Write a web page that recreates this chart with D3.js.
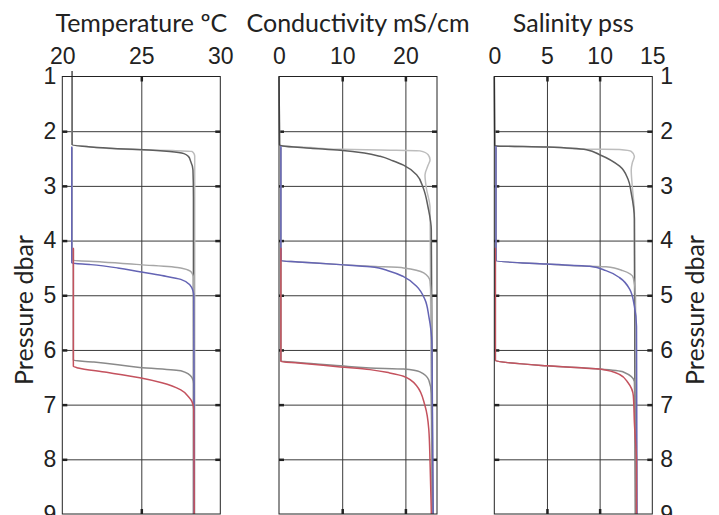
<!DOCTYPE html>
<html>
<head>
<meta charset="utf-8">
<script src="https://cdn.jsdelivr.net/npm/d3@7"></script>
<style>
  body { margin: 0; background: #fff; }
  svg { display: block; font-family: Lato, "Open Sans", sans-serif; }
  .grid line { stroke: #3a3a3a; stroke-width: 1; }
  .marks line { stroke: #222; stroke-width: 2.5; }
  .lbl text { font-size: 23px; fill: #222; }
  .lbl path, .grid path, .marks path { display: none; }
</style>
</head>
<body>
<script>
// pressure ticks (dbar)
const pressureTicks = [1, 2, 3, 4, 5, 6, 7, 8, 9];

// panels
const panelTitles = ['Temperature \u00baC', 'Conductivity mS/cm', 'Salinity pss'];
const panelDomains = [[20, 30], [0, 25], [0, 15]];
const panelTicks = [[20, 25, 30], [0, 10, 20], [0, 5, 10, 15]];

// profiles: [pressure, value]
// temperature
const tempLight = [[0.9, 20.62], [2.25, 20.62], [2.28, 21.5], [2.31, 22.8], [2.34, 24.9], [2.355, 27.0], [2.37, 28.2], [2.42, 28.35], [2.46, 28.38], [3.5, 28.38], [9, 28.38]];
const tempDark = [[0.9, 20.62], [2.25, 20.62], [2.29, 21.8], [2.32, 23.5], [2.345, 25.5], [2.37, 26.8], [2.41, 27.7], [2.47, 28.0], [2.53, 28.1], [2.71, 28.27], [3.2, 28.3], [9, 28.3]];
const tempGray2 = [[2.3, 20.62], [4.36, 20.62], [4.39, 22.5], [4.44, 24.9], [4.5, 27.5], [4.56, 28.1], [4.62, 28.25], [4.68, 28.3], [9, 28.35]];
const tempBlue = [[2.28, 20.6], [4.41, 20.6], [4.44, 21.8], [4.5, 23.5], [4.57, 24.9], [4.64, 26.3], [4.71, 27.5], [4.82, 28.1], [4.92, 28.27], [5.0, 28.32], [9, 28.35]];
const tempGray3 = [[4.15, 20.7], [6.19, 20.7], [6.22, 22.0], [6.32, 24.9], [6.38, 27.5], [6.5, 28.2], [6.62, 28.32], [9, 28.35]];
const tempRed = [[4.13, 20.7], [6.3, 20.7], [6.33, 21.0], [6.41, 22.8], [6.51, 24.9], [6.6, 26.3], [6.73, 27.5], [6.86, 28.0], [6.94, 28.2], [7.09, 28.32], [9, 28.35]];

// conductivity
const condLight = [[1.0, 0], [2.25, 0.1], [2.27, 0.6], [2.3, 5.0], [2.33, 9.7], [2.345, 16.0], [2.36, 22.3], [2.43, 23.6], [2.52, 23.9], [2.62, 23.6], [2.8, 23.1], [3.03, 23.3], [3.4, 23.9], [9, 24.2]];
const condDark = [[1.0, 0], [2.25, 0.1], [2.27, 0.6], [2.31, 5.0], [2.35, 9.7], [2.4, 13.5], [2.46, 16.0], [2.54, 18.0], [2.62, 19.7], [2.8, 21.8], [3.03, 22.8], [3.4, 23.6], [3.8, 24.1], [9, 24.3]];
const condGray2 = [[2.3, 0.3], [4.37, 0.3], [4.39, 3.0], [4.44, 9.7], [4.47, 14.4], [4.5, 19.7], [4.59, 22.9], [4.74, 23.9], [5.2, 24.1], [9, 24.3]];
const condBlue = [[2.27, 0.3], [4.37, 0.3], [4.39, 3.0], [4.44, 9.7], [4.48, 14.4], [4.56, 17.5], [4.66, 19.7], [4.84, 21.8], [5.08, 23.1], [5.38, 23.7], [5.9, 24.2], [9, 24.4]];
const condGray3 = [[4.15, 0.3], [6.2, 0.3], [6.23, 3.0], [6.29, 9.7], [6.33, 14.4], [6.35, 19.7], [6.4, 22.3], [6.55, 23.7], [6.8, 24.1], [9, 24.3]];
const condRed = [[4.13, 0.3], [6.21, 0.3], [6.24, 3.0], [6.31, 9.7], [6.36, 14.4], [6.42, 17.5], [6.48, 19.7], [6.66, 21.8], [7.02, 23.1], [7.45, 23.7], [8.05, 23.9], [9, 24.1]];

// salinity
const salLight = [[1.0, 0], [2.25, 0.05], [2.27, 0.16], [2.29, 5.0], [2.33, 8.75], [2.335, 11.9], [2.37, 13.0], [2.46, 13.3], [2.58, 13.1], [2.71, 13.0], [3.01, 13.1], [3.5, 13.3], [9, 13.4]];
const salDark = [[1.0, 0], [2.25, 0.05], [2.27, 0.16], [2.29, 5.0], [2.34, 8.75], [2.43, 10.0], [2.64, 11.9], [2.88, 12.7], [3.13, 13.0], [3.6, 13.3], [9, 13.4]];
const salGray2 = [[2.3, 0.16], [4.37, 0.16], [4.43, 5.0], [4.47, 9.06], [4.48, 10.6], [4.55, 12.2], [4.68, 13.2], [5.0, 13.4], [9, 13.5]];
const salBlue = [[2.27, 0.16], [4.37, 0.16], [4.43, 5.0], [4.47, 9.06], [4.55, 10.6], [4.68, 11.9], [4.89, 12.85], [5.2, 13.3], [5.57, 13.5], [9, 13.55]];
const salGray3 = [[4.15, 0.1], [6.19, 0.1], [6.29, 5.0], [6.35, 10.0], [6.4, 12.2], [6.58, 13.3], [9, 13.45]];
const salRed = [[4.13, 0.1], [6.19, 0.1], [6.29, 5.0], [6.35, 10.0], [6.45, 11.9], [6.6, 12.7], [6.84, 13.2], [7.33, 13.3], [8.06, 13.5], [9, 13.5]];

const profileColors = ['#bdbdbd', '#5e5e5e', '#a6a6a6', '#8a8a8a', '#6464b4', '#c4525e'];
const panelProfiles = [
  [tempLight, tempDark, tempGray2, tempGray3, tempBlue, tempRed],
  [condLight, condDark, condGray2, condGray3, condBlue, condRed],
  [salLight, salDark, salGray2, salGray3, salBlue, salRed]
];

const width = 719, height = 515;
const panelLefts = [62.3, 279, 494.3];
const panelWidth = 158;
const plotTop = 76.5, plotBottom = 514;

const svg = d3.select('body').append('svg')
  .attr('width', width)
  .attr('height', height);

const y = d3.scaleLinear().domain([1, 9]).range([plotTop, plotBottom]);
const innerP = pressureTicks.slice(1, -1);

panelTitles.forEach((title, i) => {
  const x = d3.scaleLinear()
    .domain(panelDomains[i])
    .range([panelLefts[i], panelLefts[i] + panelWidth]);
  const ticks = panelTicks[i];
  const innerT = ticks.filter(t => t > panelDomains[i][0] && t < panelDomains[i][1]);
  const g = svg.append('g');

  // grid
  g.append('g').attr('class', 'grid')
    .attr('transform', `translate(0,${plotTop})`)
    .call(d3.axisBottom(x).tickValues(innerT).tickSize(plotBottom - plotTop).tickFormat(''));
  g.append('g').attr('class', 'grid')
    .attr('transform', `translate(${x.range()[0]},0)`)
    .call(d3.axisRight(y).tickValues(innerP).tickSize(panelWidth).tickFormat(''));

  // short tick marks on the frame
  g.append('g').attr('class', 'marks')
    .attr('transform', `translate(0,${plotTop})`)
    .call(d3.axisBottom(x).tickValues(innerT).tickSize(5).tickFormat(''));
  g.append('g').attr('class', 'marks')
    .attr('transform', `translate(0,${plotBottom})`)
    .call(d3.axisTop(x).tickValues(innerT).tickSize(5).tickFormat(''));
  g.append('g').attr('class', 'marks')
    .attr('transform', `translate(${x.range()[0]},0)`)
    .call(d3.axisRight(y).tickValues(innerP).tickSize(5).tickFormat(''));
  g.append('g').attr('class', 'marks')
    .attr('transform', `translate(${x.range()[1]},0)`)
    .call(d3.axisLeft(y).tickValues(innerP).tickSize(5).tickFormat(''));

  // profiles
  const line = d3.line()
    .x(d => x(d[1]))
    .y(d => y(d[0]))
    .curve(d3.curveMonotoneY);
  panelProfiles[i].forEach((p, k) => {
    g.append('path')
      .attr('d', line(p))
      .attr('fill', 'none')
      .attr('stroke', profileColors[k])
      .attr('stroke-width', 1.5);
  });

  // frame
  g.append('rect')
    .attr('x', x.range()[0])
    .attr('y', plotTop)
    .attr('width', panelWidth)
    .attr('height', plotBottom - plotTop)
    .attr('fill', 'none')
    .attr('stroke', '#222')
    .attr('stroke-width', 1);

  // top tick labels
  g.append('g').attr('class', 'lbl')
    .attr('transform', `translate(0,${plotTop})`)
    .call(d3.axisTop(x).tickValues(ticks).tickSize(0).tickPadding(13).tickFormat(d3.format('d')));

  // title
  g.append('text')
    .attr('x', x.range()[0] + panelWidth / 2)
    .attr('y', 32)
    .attr('text-anchor', 'middle')
    .attr('font-size', 25)
    .attr('fill', '#222')
    .text(title);

  if (i === 0) {
    g.append('g').attr('class', 'lbl')
      .attr('transform', `translate(${x.range()[0]},0)`)
      .call(d3.axisLeft(y).tickValues(pressureTicks).tickSize(0).tickPadding(6));
  }
  if (i === 2) {
    g.append('g').attr('class', 'lbl')
      .attr('transform', `translate(${x.range()[1]},0)`)
      .call(d3.axisRight(y).tickValues(pressureTicks).tickSize(0).tickPadding(8));
  }
});

// pressure axis titles
[33, 704].forEach(px => {
  svg.append('text')
    .attr('transform', `translate(${px},310) rotate(-90)`)
    .attr('text-anchor', 'middle')
    .attr('font-size', 25)
    .attr('fill', '#222')
    .text('Pressure dbar');
});
</script>
</body>
</html>
